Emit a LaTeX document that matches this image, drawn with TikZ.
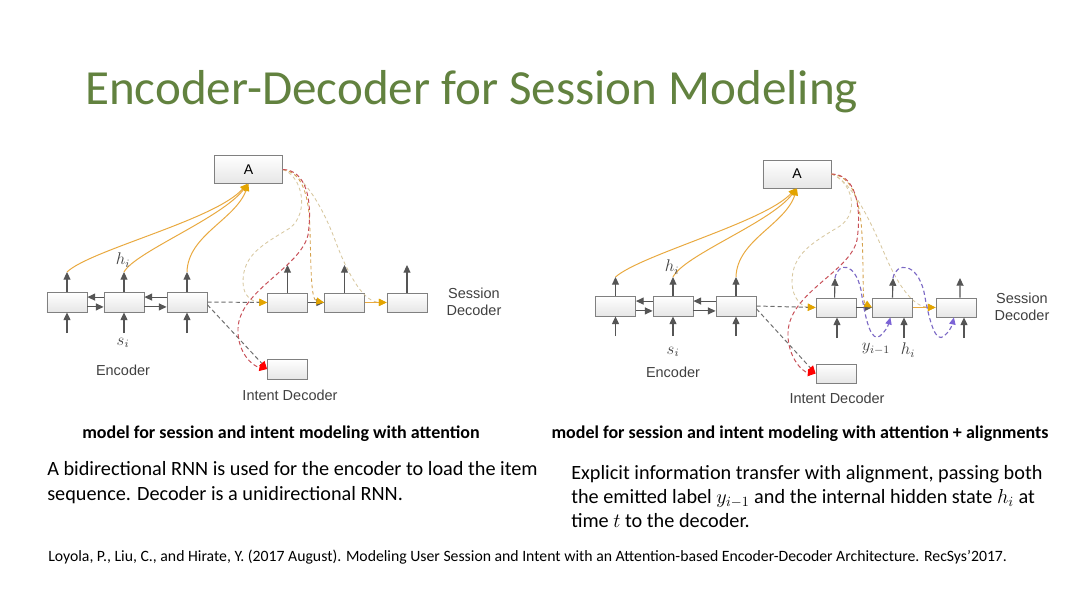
\documentclass[tikz,border=0pt]{standalone}
\usepackage{fontspec}
\setmainfont{Carlito}
\newfontfamily\arialf{Liberation Sans}
\usetikzlibrary{arrows.meta,calc}
\definecolor{titlegreen}{HTML}{62823F}
\definecolor{boxline}{HTML}{808080}
\definecolor{boxfill}{HTML}{E6E6E6}
\definecolor{arrgray}{HTML}{555555}
\definecolor{attn}{HTML}{E9A93F}
\definecolor{attntip}{HTML}{E3A400}
\definecolor{reddash}{HTML}{C85058}
\definecolor{faint}{HTML}{D8C8A0}
\definecolor{purp}{HTML}{7B63D6}
\begin{document}
\begin{tikzpicture}[x=0.025cm,y=-0.025cm,
  cell/.style={draw=boxline, line width=0.6pt, top color=white, bottom color=boxfill, minimum width=1cm, minimum height=0.5cm, inner sep=0pt},
  abox/.style={cell, minimum width=1.7cm, minimum height=0.7cm, font=\arialf\fontsize{10}{11}\selectfont},
  lbl/.style={font=\arialf\fontsize{10.3}{12}\selectfont, text=black!75, inner sep=0pt},
  mlbl/.style={font=\fontsize{12}{13}\selectfont, text=black!75, inner sep=0pt},
  gtip/.style={-{Triangle[length=5.5pt,width=5pt]}},
  garrow/.style={draw=arrgray, line width=0.8pt, gtip, color=arrgray},
  attnline/.style={draw=attn, line width=0.7pt, -{Triangle[length=5pt,width=4.5pt,color=attntip]}},
  gdash/.style={draw=arrgray!85, line width=0.7pt, dash pattern=on 3pt off 2pt},
  rdash/.style={draw=reddash, line width=0.7pt, dash pattern=on 3pt off 2pt},
  odash/.style={draw=attn!80!gray, line width=0.6pt, dash pattern=on 2.5pt off 2pt},
  fdash/.style={draw=faint, line width=0.6pt, dash pattern=on 2.5pt off 2pt},
  pdash/.style={draw=purp!80!gray, line width=0.8pt, dash pattern=on 3pt off 2pt, -{Triangle[length=5pt,width=4.5pt,color=purp]}},
  otip/.style={-{Triangle[length=5.5pt,width=5pt,color=attntip]}},
  rtip/.style={-{Triangle[length=5.5pt,width=5pt,color=red]}},
  captxt/.style={anchor=base, inner sep=0pt, font=\bfseries\fontsize{12.8}{15}\selectfont},
  bodytxt/.style={anchor=base west, inner sep=0pt, font=\fontsize{14.4}{17}\selectfont},
]
\useasboundingbox (0,0) rectangle (1080,607);
\fill[white] (0,0) rectangle (1080,607);

% Title
\node[anchor=base west, inner sep=0pt, text=titlegreen, font=\fontsize{34.9}{40}\selectfont] (title) at (85,104) {Encoder-Decoder for Session Modeling};

% ================= LEFT DIAGRAM =================
\node[abox] (A) at (248.5,169.5) {A};
\node[cell] (e1) at (67,302) {};
\node[cell] (e2) at (124,302) {};
\node[cell] (e3) at (187,302) {};
\node[cell, minimum height=0.475cm] (d1) at (287.5,302.5) {};
\node[cell, minimum height=0.475cm] (d2) at (344.5,302.5) {};
\node[cell, minimum height=0.475cm] (d3) at (407,302.5) {};
\node[cell] (it) at (287.5,369) {};

\coordinate (eo1) at (67,272);  \coordinate (ei1) at (67,333);
\coordinate (eo2) at (124,272); \coordinate (ei2) at (124,333);
\coordinate (eo3) at (187,272); \coordinate (ei3) at (187,333);
\coordinate (do1) at (287.5,265);
\coordinate (do2) at (344.5,265);
\coordinate (do3) at (407,265);

% faint dashed attention lines
\draw[fdash, otip] (A.east) .. controls (302,176) and (310,212) .. (290,228) .. controls (262,245) and (243,255) .. (243,282) .. controls (243,296) and (252,302) .. (d1.west);
\draw[fdash, otip] (A.east) .. controls (300,172) and (320,200) .. (335,240) .. controls (350,280) and (365,302) .. (d3.west);

% encoder arrows
\foreach \i in {1,2,3}{
  \draw[garrow] (e\i) -- (eo\i);
  \draw[garrow] (ei\i) -- (e\i);
}
\draw[garrow] ([yshift=3.5pt]e2.west) -- ([yshift=3.5pt]e1.east);
\draw[garrow] ([yshift=-3.5pt]e1.east) -- ([yshift=-3.5pt]e2.west);
\draw[garrow] ([yshift=3.5pt]e3.west) -- ([yshift=3.5pt]e2.east);
\draw[garrow] ([yshift=-3.5pt]e2.east) -- ([yshift=-3.5pt]e3.west);

% decoder arrows
\foreach \i in {1,2,3}{ \draw[garrow] (d\i) -- (do\i); }
\draw[garrow] (d1) -- (d2);
\draw[draw=attn, line width=0.8pt, otip] (d2) -- (d3);

% attention curves to A
\draw[attnline] (eo1) .. controls (90,250) and (215,220) .. ([xshift=-1pt]A.south);
\draw[attnline] (eo2) .. controls (135,252) and (222,218) .. ([xshift=-0.5pt]A.south);
\draw[attnline] (eo3) .. controls (188,235) and (235,220) .. (A.south);

% dashed
\draw[gdash, otip] (e3.east) -- (d1.west);
\draw[gdash, rtip] ([yshift=-2pt]e3.east) -- (it.west);
\draw[odash, otip] (A.east) .. controls (300,172) and (309,190) .. (310,230) .. controls (311,270) and (311,300) .. (d2.west);
\draw[rdash, rtip] (A.east) .. controls (306,170) and (313,200) .. (308,235) .. controls (300,268) and (240,290) .. (238,328) .. controls (237,352) and (252,366) .. (it.west);

% labels
\node[mlbl] (hl) at (123,260) {$h_i$};
\node[mlbl] (sl) at (123,343) {$s_i$};
\node[lbl] (encl) at (123,370) {Encoder};
\node[lbl, align=center] (sdl) at (474,302) {Session\\Decoder};
\node[lbl] (idl) at (290,395) {Intent Decoder};

% ================= RIGHT DIAGRAM =================
\node[abox] (B) at (797,174) {A};
\node[cell] (f1) at (615.5,306) {};
\node[cell] (f2) at (673,306) {};
\node[cell] (f3) at (736,306) {};
\node[cell, minimum height=0.475cm] (g1) at (836,307.5) {};
\node[cell, minimum height=0.475cm] (g2) at (892.5,307.5) {};
\node[cell, minimum height=0.475cm] (g3) at (956,307.5) {};
\node[cell, minimum height=0.475cm] (jt) at (836,373.5) {};

\coordinate (fo1) at (615.5,277); \coordinate (fi1) at (615.5,336);
\coordinate (fo2) at (673,277);   \coordinate (fi2) at (673,336);
\coordinate (fo3) at (736,277);   \coordinate (fi3) at (736,336);
\coordinate (go1) at (835,278); \coordinate (gi1) at (837,338);
\coordinate (go2) at (893,278); \coordinate (gi2) at (904,338);
\coordinate (go3) at (960,278); \coordinate (gi3) at (964,338);

% faint dashed
\draw[fdash, otip] (B.east) .. controls (852,182) and (860,212) .. (840,226) .. controls (812,243) and (792,254) .. (792,282) .. controls (792,298) and (802,307) .. (g1.west);
\draw[fdash, otip] (B.east) .. controls (850,180) and (868,215) .. (885,255) .. controls (900,290) and (915,307) .. (g3.west);

\foreach \i in {1,2,3}{
  \draw[garrow] (f\i) -- (fo\i);
  \draw[garrow] (fi\i) -- (f\i);
}
\draw[garrow] ([yshift=3.5pt]f2.west) -- ([yshift=3.5pt]f1.east);
\draw[garrow] ([yshift=-3.5pt]f1.east) -- ([yshift=-3.5pt]f2.west);
\draw[garrow] ([yshift=3.5pt]f3.west) -- ([yshift=3.5pt]f2.east);
\draw[garrow] ([yshift=-3.5pt]f2.east) -- ([yshift=-3.5pt]f3.west);

\draw[garrow] ([xshift=-1pt]g1.north) -- (go1);
\draw[garrow] (gi1) -- (gi1 |- g1.south);
\draw[garrow] (g2.north) -- (go2);
\draw[garrow] (gi2) -- (gi2 |- g2.south);
\draw[garrow] ([xshift=2.8pt]g3.north) -- (go3);
\draw[garrow] (gi3) -- (gi3 |- g3.south);
\draw[garrow] (g1) -- (g2);
\draw[draw=attn, line width=0.8pt, otip] (g2) -- (g3);

\draw[attnline] (fo1) .. controls (640,255) and (765,222) .. ([xshift=-1pt]B.south);
\draw[attnline] (fo2) .. controls (684,255) and (772,222) .. ([xshift=-0.5pt]B.south);
\draw[attnline] (fo3) .. controls (737,240) and (785,225) .. (B.south);

\draw[gdash, otip] (f3.east) -- (g1.west);
\draw[gdash, rtip] ([yshift=-2pt]f3.east) -- (jt.west);
\draw[odash, otip] (B.east) .. controls (850,176) and (860,195) .. (862,235) .. controls (864,275) and (862,302) .. (g2.west);
\draw[rdash, rtip] (B.east) .. controls (855,174) and (862,205) .. (857,240) .. controls (850,272) and (790,292) .. (788,332) .. controls (787,356) and (802,372) .. (jt.west);

% purple alignment loops
\draw[pdash] (go1) .. controls (838,262) and (855,262) .. (861,290) .. controls (866,325) and (872,342) .. (880,336) .. controls (885,332) and (888,326) .. ([xshift=-1.5pt]g2.south);
\draw[pdash] (go2) .. controls (896,262) and (917,262) .. (924,292) .. controls (930,325) and (936,343) .. (944,336) .. controls (949,332) and (952,326) .. ([xshift=-1.5pt]g3.south);

\node[mlbl] (yl) at (876,349) {$y_{i-1}$};
\node[mlbl] (hl2) at (908,350) {$h_i$};
\node[mlbl] (hl3) at (672,267) {$h_i$};
\node[mlbl] (sl2) at (673,352) {$s_i$};
\node[lbl] (encl2) at (673,372) {Encoder};
\node[lbl, align=center] (sdl2) at (1022,307) {Session\\Decoder};
\node[lbl] (idl2) at (837,398) {Intent Decoder};

% ================= TEXT =================
\node[captxt] (cap1) at (281,438) {model for session and intent modeling with attention};
\node[captxt] (cap2) at (800,438) {model for session and intent modeling with attention + alignments};

\node[bodytxt] (b1) at (47,475) {A bidirectional RNN is used for the encoder to load the item};
\node[bodytxt] (b2) at (47,500) {sequence. Decoder is a unidirectional RNN.};

\node[bodytxt] (c1) at (571,479) {Explicit information transfer with alignment, passing both};
\node[bodytxt] (c2) at (571,503) {the emitted label $y_{i-1}$ and the internal hidden state $h_i$ at};
\node[bodytxt] (c3) at (571,527) {time $t$ to the decoder.};

\node[anchor=base west, inner sep=0pt, font=\fontsize{11.2}{13}\selectfont] (cite) at (48,561) {Loyola, P., Liu, C., and Hirate, Y. (2017 August). Modeling User Session and Intent with an Attention-based Encoder-Decoder Architecture. RecSys’2017.};
\end{tikzpicture}
\end{document}
